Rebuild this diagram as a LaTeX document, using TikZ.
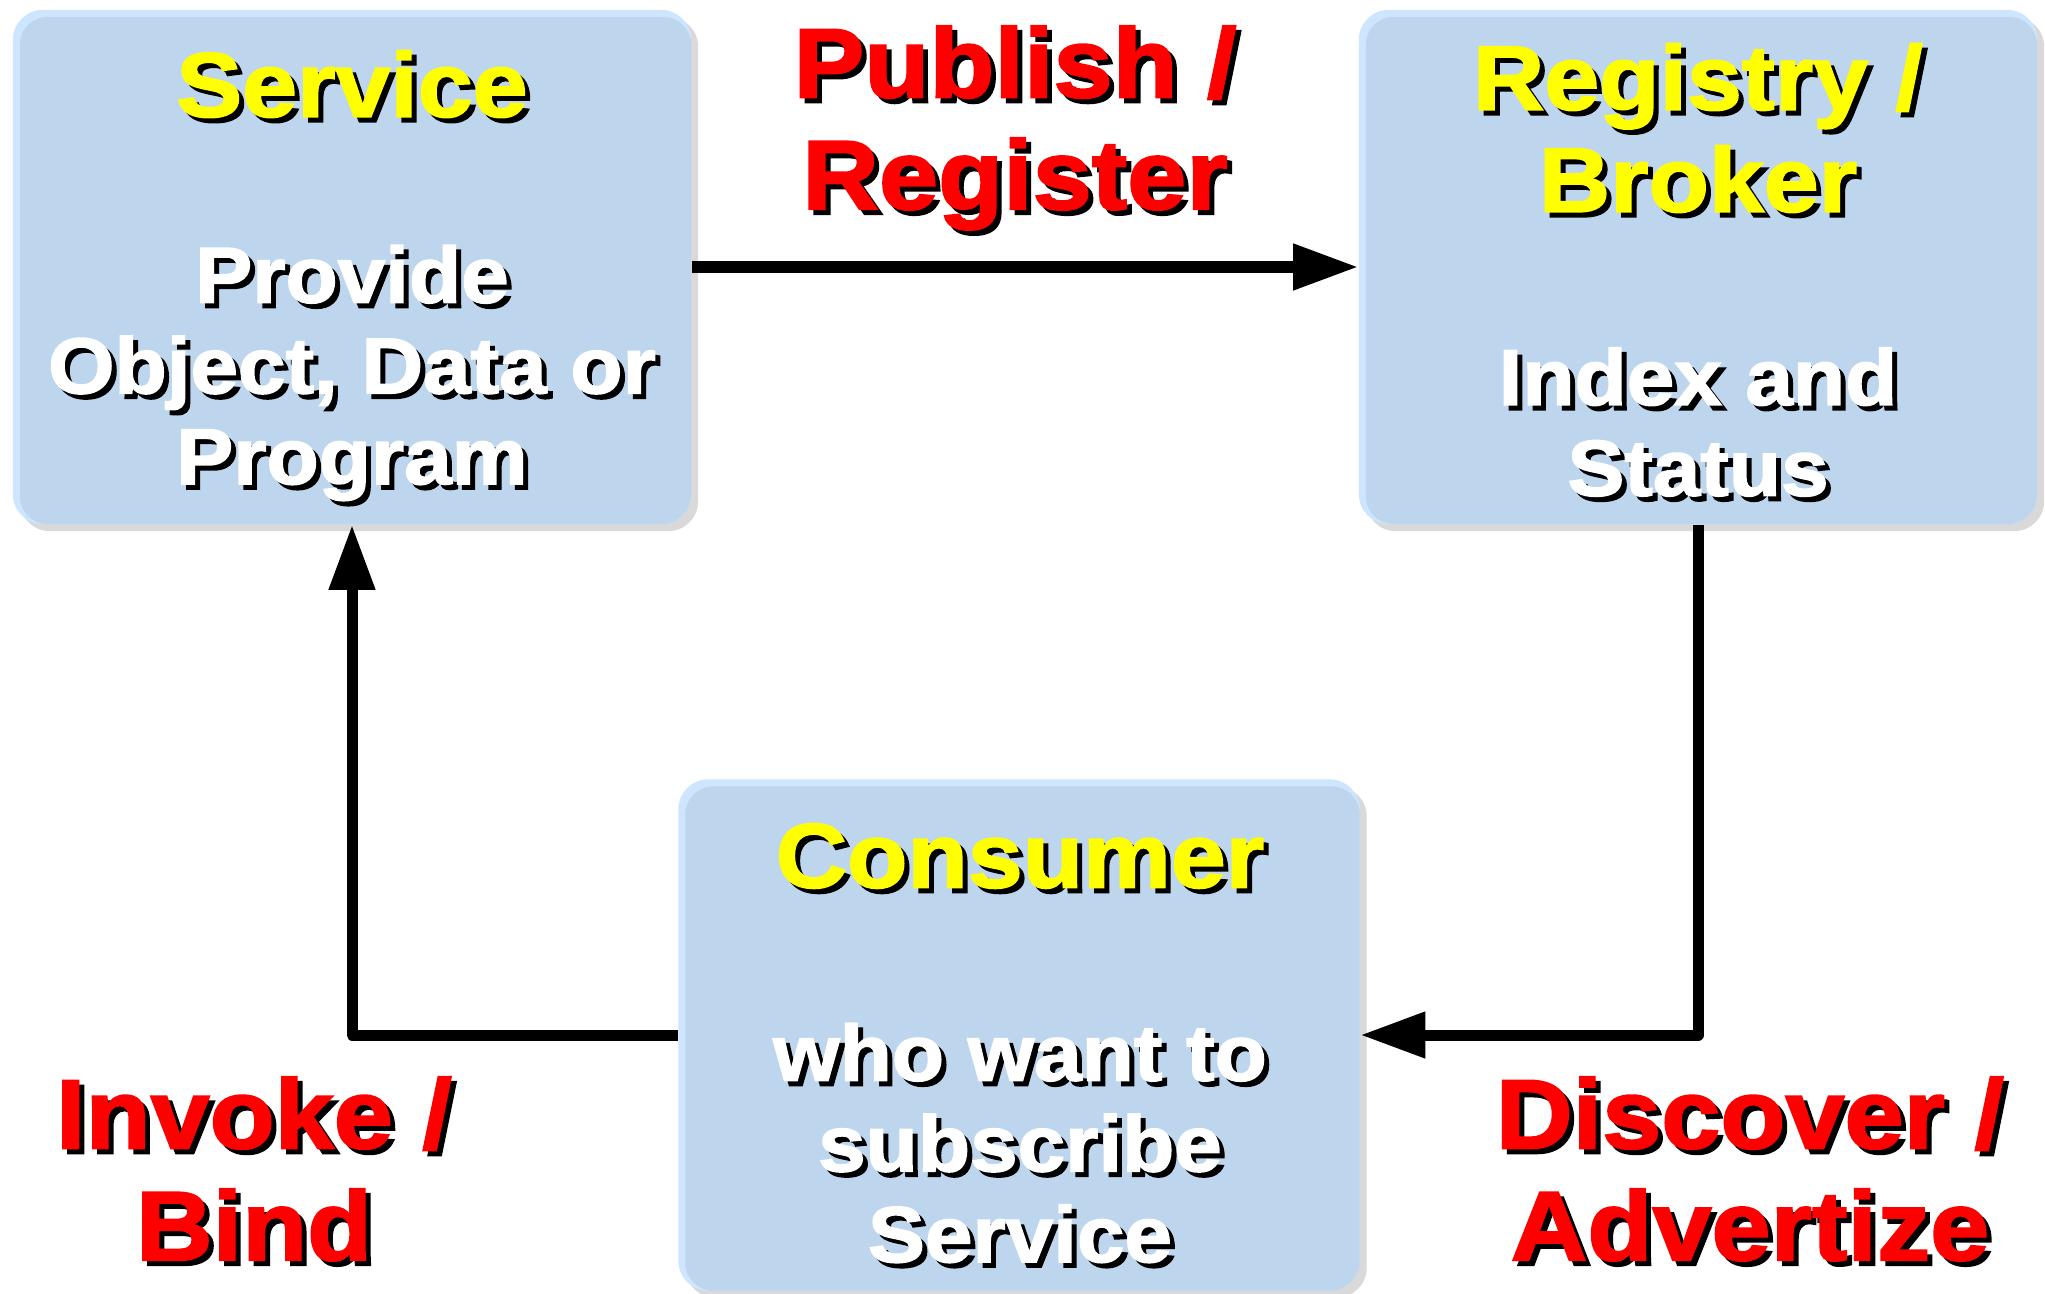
\documentclass[tikz,border=0pt]{standalone}
\usepackage{fontspec}
\setmainfont{Liberation Sans}[BoldFeatures = {FakeStretch = 1.08, FakeBold = 2}]
\usetikzlibrary{arrows.meta, shadows}

\definecolor{boxblue}{RGB}{189,214,238}
\definecolor{rimblue}{RGB}{206,229,255}
\definecolor{shadegray}{RGB}{217,217,217}
\definecolor{labelred}{RGB}{255,0,0}
\definecolor{titleyellow}{RGB}{255,255,0}

\tikzset{
  block/.style = {rounded corners = .3cm, fill = rimblue, inner sep = 0,
    minimum width = 6.78cm, minimum height = 5.14cm,
    drop shadow = {shadow xshift = .07cm, shadow yshift = -.07cm,
      fill = shadegray, opacity = 1},
    path picture = {\fill[boxblue, rounded corners = .28cm]
      ([shift = {(.07cm, -.07cm)}]path picture bounding box.north west)
      rectangle (path picture bounding box.south east);}},
  title/.style = {font = \bfseries\fontsize{26}{29}\selectfont, align = center},
  body/.style = {font = \bfseries\fontsize{22.5}{25.8}\selectfont, align = center},
  flow/.style = {font = \bfseries\fontsize{28}{31.8}\selectfont, align = center},
  link/.style = {line width = .11cm, line join = round,
    -{Triangle[length = .65cm, width = .44cm]}}
}

% text with a black drop shadow
\newcommand{\shadowtext}[5]{%
  \node[#3, text = black, xshift = .05cm, yshift = -.05cm] (#1-back) at (#2) {#5};
  \node[#3, text = #4] (#1) at (#2) {#5};}

\begin{document}
\begin{tikzpicture}[x = .01cm, y = -.01cm]
  \useasboundingbox (0, 0) rectangle (2045, 1294);
  \node[block] (service) at (352, 267) {};
  \node[block] (registry) at (1698, 267) {};
  \node[block, minimum width = 6.81cm, minimum height = 5.11cm] (consumer)
  at (1019, 1035) {};

  \draw[link] (service.east) -- (registry.west);
  \draw[link] (registry.south) |- (consumer.east);
  \draw[link] (consumer.west) -| (service.south);

  \shadowtext{servicetitle}{352, 84}{title}{titleyellow}{Service}
  \shadowtext{servicebody}{352, 373}{body}{white}
  {Provide\\ Object, Data or\\ Program}
  \shadowtext{registrytitle}{1698, 128}{title}{titleyellow}{Registry /\\ Broker}
  \shadowtext{registrybody}{1698, 422}{body}{white}{Index and\\ Status}
  \shadowtext{consumertitle}{1020, 856}{title}{titleyellow}{Consumer}
  \shadowtext{consumerbody}{1020, 1143}{body}{white}
  {who want to\\ subscribe\\ Service}

  \shadowtext{publish}{1015, 128}{flow}{labelred}{Publish /\\ Register}
  \shadowtext{invoke}{254, 1169}{flow}{labelred}{Invoke /\\ Bind}
  \shadowtext{discover}{1750, 1169}{flow}{labelred}{Discover /\\ Advertize}
\end{tikzpicture}
\end{document}
